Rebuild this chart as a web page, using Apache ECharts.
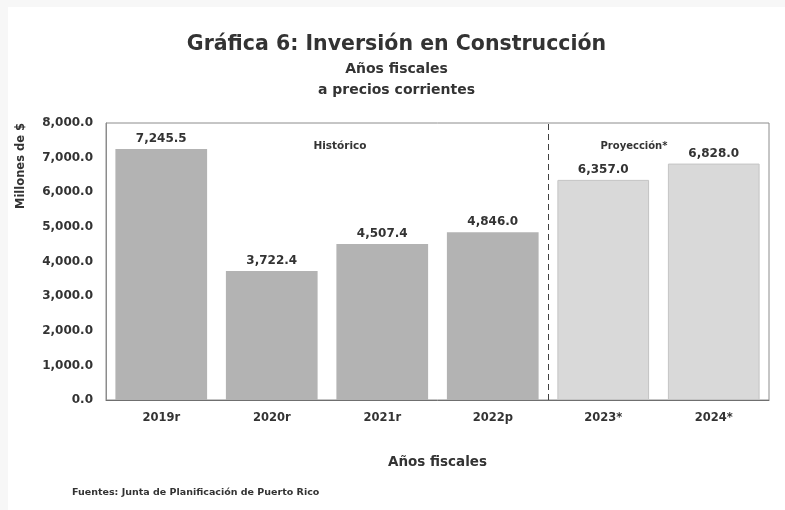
<!DOCTYPE html>
<html>
<head>
<meta charset="utf-8">
<script src="https://cdn.jsdelivr.net/npm/echarts@6/dist/echarts.min.js"></script>
<style>
  html, body { margin: 0; padding: 0; background: #f7f7f7; }
  #chartDom { position: absolute; left: 8px; top: 7px; width: 777px; height: 503px; background: #fff; }
</style>
</head>
<body>
<div id="chartDom"></div>
<script>
// datos de la gráfica
const categories = ["2019r", "2020r", "2021r", "2022p", "2023*", "2024*"];
const valores = [7245.5, 3722.4, 4507.4, 4846.0, 6357.0, 6828.0];
const proyectado = [false, false, false, false, true, true];
const yTicks = { min: 0, max: 8000, interval: 1000 };

const FONT = "'DejaVu Sans', 'Noto Sans', sans-serif";
const fmt = v => v.toLocaleString("en-US", { minimumFractionDigits: 1, maximumFractionDigits: 1 });

let myChart = echarts.init(document.getElementById("chartDom"));
myChart.setOption({
  animation: false,
  textStyle: { fontFamily: FONT },
  title: [
    {
      text: "Gráfica 6: Inversión en Construcción",
      left: "center", top: 22,
      textStyle: { fontSize: 20.5, fontWeight: "bold", color: "#333", fontFamily: FONT }
    },
    {
      text: "Años fiscales\na precios corrientes",
      left: "center", top: 47,
      textStyle: { fontSize: 14, fontWeight: "bold", color: "#333", lineHeight: 21, fontFamily: FONT }
    },
    {
      text: "Fuentes: Junta de Planificación de Puerto Rico",
      left: 59, top: 476,
      textStyle: { fontSize: 9.5, fontWeight: "bold", color: "#333", fontFamily: FONT }
    }
  ],
  grid: { left: 98, right: 16, top: 116, bottom: 110, show: true, borderColor: "#8c8c8c", borderWidth: 1 },
  xAxis: [
    {
      type: "category",
      data: categories,
      name: "Años fiscales",
      nameLocation: "middle",
      nameGap: 55,
      nameTextStyle: { fontSize: 13.5, fontWeight: "bold", color: "#333", fontFamily: FONT },
      axisLine: { lineStyle: { color: "#6f6f6f" } },
      axisTick: { inside: true, length: 5, lineStyle: { color: "#6f6f6f" } },
      axisLabel: { fontSize: 11.5, fontWeight: "bold", color: "#333", margin: 12 }
    },
    {
      // eje auxiliar para la línea divisoria
      type: "value", min: 0, max: categories.length, show: false, position: "bottom"
    }
  ],
  yAxis: {
    type: "value",
    min: yTicks.min, max: yTicks.max, interval: yTicks.interval,
    axisLine: { show: true, lineStyle: { color: "#8c8c8c" } },
    axisTick: { show: false },
    splitLine: { show: false },
    axisLabel: { fontSize: 12, fontWeight: "bold", color: "#333", margin: 13, formatter: v => fmt(v) }
  },
  series: [
    {
      type: "bar",
      barCategoryGap: "17%",
      data: valores.map((v, i) => ({
        value: v,
        itemStyle: proyectado[i]
          ? { color: "#d9d9d9", borderColor: "#c4c4c4", borderWidth: 1 }
          : { color: "#b3b3b3" }
      })),
      label: {
        show: true, position: "top", distance: 4,
        fontSize: 12, fontWeight: "bold", color: "#333",
        formatter: p => fmt(p.value)
      }
    },
    {
      type: "line",
      xAxisIndex: 1,
      data: [],
      markLine: {
        symbol: "none", silent: true,
        label: { show: false },
        lineStyle: { type: [6, 4], color: "#404040", width: 1 },
        data: [{ xAxis: proyectado.indexOf(true) }]
      }
    }
  ],
  graphic: [
    {
      type: "text", x: 13, y: 159, rotation: Math.PI / 2,
      style: { text: "Millones de $", font: "bold 11.5px " + FONT, fill: "#333", align: "center", verticalAlign: "middle" }
    },
    {
      type: "text", x: 332, y: 139,
      style: { text: "Histórico", font: "bold 10.5px " + FONT, fill: "#333", align: "center", verticalAlign: "middle" }
    },
    {
      type: "text", x: 626, y: 139,
      style: { text: "Proyección*", font: "bold 10px " + FONT, fill: "#333", align: "center", verticalAlign: "middle" }
    }
  ]
});
</script>
</body>
</html>
